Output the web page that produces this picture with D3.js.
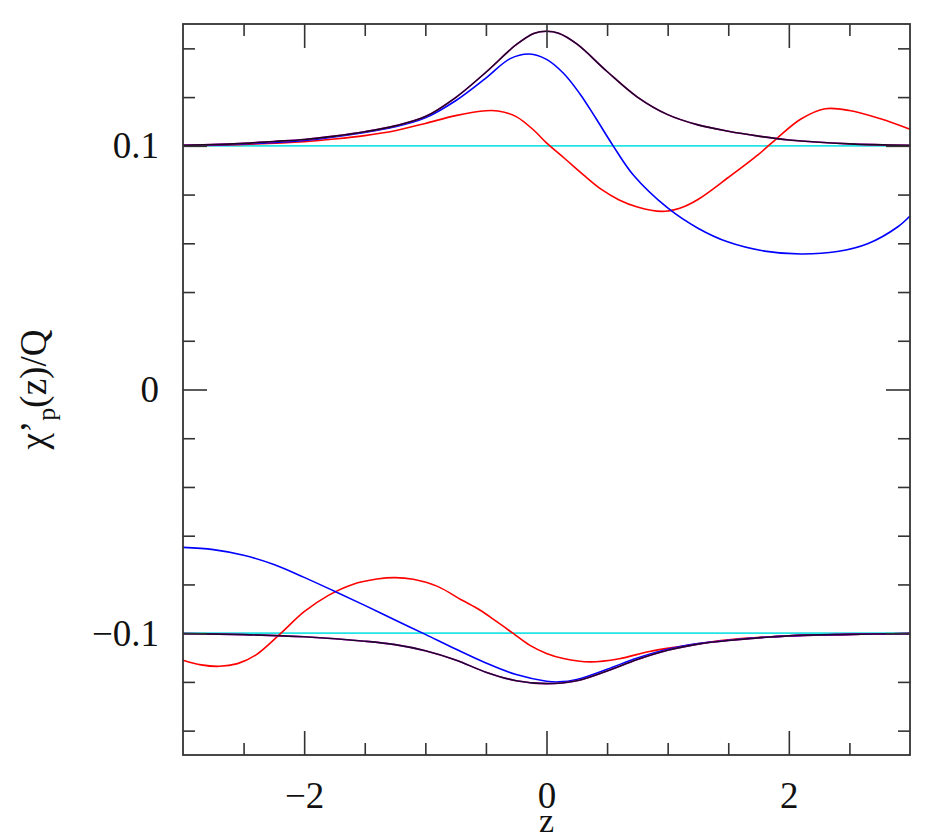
<!DOCTYPE html>
<html>
<head>
<meta charset="utf-8">
<script src="https://cdn.jsdelivr.net/npm/d3@7"></script>
<style>
  body { margin: 0; background: #fff; }
  text { font-family: "Liberation Serif", "DejaVu Serif", serif; }
</style>
</head>
<body>
<div id="chart"></div>
<script>
// upper branch (around +0.1)
const zBlackUp = [-3, -2.5, -2.25, -2, -1.75, -1.5, -1.25, -1, -0.75, -0.5, -0.25, -0.1, 0, 0.1, 0.25, 0.5, 0.75, 1, 1.25, 1.5, 1.75, 2, 2.5, 3]
const blackUp = [0.1002, 0.1010, 0.1018, 0.1026, 0.1040, 0.1058, 0.1082, 0.1120, 0.1198, 0.1302, 0.1415, 0.1462, 0.1470, 0.1462, 0.1418, 0.1305, 0.1200, 0.1128, 0.1086, 0.1060, 0.1040, 0.1024, 0.1008, 0.1002]

const zBlueUp = [-3, -2.5, -2, -1.5, -1.25, -1, -0.75, -0.5, -0.3, -0.14, 0, 0.14, 0.275, 0.41, 0.55, 0.72, 1, 1.25, 1.5, 1.8, 2.1, 2.4, 2.65, 2.9, 3]
const blueUp = [0.1001, 0.1008, 0.1022, 0.1055, 0.1078, 0.1115, 0.1185, 0.1278, 0.1358, 0.1377, 0.1355, 0.1298, 0.1214, 0.1111, 0.1000, 0.0878, 0.0745, 0.0662, 0.0605, 0.0568, 0.0556, 0.0566, 0.0598, 0.0668, 0.0712]

const zRedUp = [-3, -2.5, -2, -1.75, -1.5, -1.25, -1, -0.75, -0.5, -0.4, -0.25, -0.1, 0, 0.15, 0.3, 0.45, 0.6, 0.75, 0.95, 1.1, 1.25, 1.5, 1.75, 1.9, 2.1, 2.3, 2.5, 2.75, 3]
const redUp = [0.1001, 0.1006, 0.1017, 0.1028, 0.1042, 0.1062, 0.1092, 0.1124, 0.1144, 0.1143, 0.1120, 0.1062, 0.1012, 0.0948, 0.0883, 0.0822, 0.0778, 0.0749, 0.0731, 0.0744, 0.0780, 0.0870, 0.0965, 0.1030, 0.1110, 0.1152, 0.1145, 0.1112, 0.1068]

// lower branch (around -0.1)
const zBlackLow = [-3, -2.5, -2, -1.5, -1.25, -1, -0.75, -0.5, -0.25, 0, 0.25, 0.5, 0.75, 1, 1.25, 1.5, 2, 2.5, 3]
const blackLow = [-0.1002, -0.1006, -0.1015, -0.1033, -0.1047, -0.1072, -0.1110, -0.1160, -0.1195, -0.1207, -0.1195, -0.1155, -0.1108, -0.1070, -0.1045, -0.1030, -0.1011, -0.1005, -0.1002]

const zBlueLow = [-3, -2.75, -2.5, -2.25, -2, -1.75, -1.5, -1.25, -1, -0.75, -0.5, -0.25, 0, 0.1, 0.25, 0.5, 0.75, 1, 1.25, 1.5, 2, 2.5, 3]
const blueLow = [-0.0648, -0.0657, -0.0680, -0.0718, -0.0771, -0.0828, -0.0886, -0.0946, -0.1005, -0.1065, -0.1122, -0.1170, -0.1197, -0.1200, -0.1190, -0.1148, -0.1102, -0.1066, -0.1043, -0.1029, -0.1011, -0.1005, -0.1002]

const zRedLow = [-3, -2.85, -2.7, -2.55, -2.4, -2.2, -2, -1.8, -1.6, -1.4, -1.25, -1.1, -0.9, -0.7, -0.55, -0.41, -0.275, -0.14, 0, 0.14, 0.36, 0.6, 0.85, 1.1, 1.5, 2, 2.5, 3]
const redLow = [-0.1111, -0.1130, -0.1136, -0.1125, -0.1090, -0.1004, -0.0912, -0.0845, -0.0800, -0.0778, -0.0772, -0.0779, -0.0808, -0.0864, -0.0905, -0.0953, -0.1001, -0.1049, -0.1083, -0.1104, -0.1118, -0.1105, -0.1075, -0.1055, -0.1027, -0.1011, -0.1005, -0.1002]

// flat reference lines
const zFlat = [-3, 3]
const flatUp = [0.1, 0.1]
const flatLow = [-0.1, -0.1]

const xMajor = [-2, 0, 2]
const xMinor = [-2.5, -1.5, -1, -0.5, 0.5, 1, 1.5, 2.5]
const yMajor = [-0.1, 0, 0.1]
const yMinor = [-0.14, -0.12, -0.08, -0.06, -0.04, -0.02, 0.02, 0.04, 0.06, 0.08, 0.12, 0.14]

const width = 938
const height = 840
const margin = {top: 24, right: 28, bottom: 85, left: 183}
const iw = width - margin.left - margin.right
const ih = height - margin.top - margin.bottom

const svg = d3.select("#chart")
    .append("svg")
    .attr("width", width)
    .attr("height", height)

const x = d3.scaleLinear().domain([-3, 3]).range([0, iw])
const y = d3.scaleLinear().domain([-0.15, 0.15]).range([ih, 0])

const g = svg.append("g").attr("transform", `translate(${margin.left},${margin.top})`)

const zip = (zs, vs) => zs.map((z, i) => [z, vs[i]])
const line = d3.line().x(d => x(d[0])).y(d => y(d[1])).curve(d3.curveCatmullRom.alpha(0.5))

const series = [
    {z: zFlat, v: flatUp, color: "#22e4e4"},
    {z: zFlat, v: flatLow, color: "#22e4e4"},
    {z: zRedUp, v: redUp, color: "#ff0000"},
    {z: zRedLow, v: redLow, color: "#ff0000"},
    {z: zBlueUp, v: blueUp, color: "#0000ff"},
    {z: zBlueLow, v: blueLow, color: "#0000ff"},
    {z: zBlackUp, v: blackUp, color: "#ff00ff"},
    {z: zBlackLow, v: blackLow, color: "#ff00ff"},
    {z: zBlackUp, v: blackUp, color: "#1c0a1e"},
    {z: zBlackLow, v: blackLow, color: "#1c0a2a"}
]

g.append("g")
    .selectAll("path")
    .data(series)
    .join("path")
    .attr("fill", "none")
    .attr("stroke", d => d.color)
    .attr("stroke-width", 1.6)
    .attr("d", d => line(zip(d.z, d.v)))

// ticks on all four sides, pointing inward
const tickStyle = sel => {
    sel.select(".domain").remove()
    sel.selectAll(".tick line").attr("stroke", "#333").attr("stroke-width", 1.6)
    sel.selectAll(".tick text")
        .attr("fill", "#111")
        .style("font-family", "'Liberation Serif', serif")
        .style("font-size", "37px")
}

g.append("g").attr("transform", `translate(0,${ih})`)
    .call(d3.axisBottom(x).tickValues(xMinor).tickSize(-12).tickFormat(""))
    .call(tickStyle)
g.append("g").attr("transform", `translate(0,${ih})`)
    .call(d3.axisBottom(x).tickValues(xMajor).tickSize(-24).tickPadding(27)
        .tickFormat(d => d < 0 ? "\u2212" + Math.abs(d) : d))
    .call(tickStyle)
g.append("g")
    .call(d3.axisTop(x).tickValues(xMinor).tickSize(-12).tickFormat(""))
    .call(tickStyle)
g.append("g")
    .call(d3.axisTop(x).tickValues(xMajor).tickSize(-24).tickFormat(""))
    .call(tickStyle)

g.append("g")
    .call(d3.axisLeft(y).tickValues(yMinor).tickSize(-12).tickFormat(""))
    .call(tickStyle)
g.append("g")
    .call(d3.axisLeft(y).tickValues(yMajor).tickSize(-24).tickPadding(24)
        .tickFormat(d => d === 0 ? "0" : (d < 0 ? "\u2212" : "") + Math.abs(d)))
    .call(tickStyle)
g.append("g").attr("transform", `translate(${iw},0)`)
    .call(d3.axisRight(y).tickValues(yMinor).tickSize(-12).tickFormat(""))
    .call(tickStyle)
g.append("g").attr("transform", `translate(${iw},0)`)
    .call(d3.axisRight(y).tickValues(yMajor).tickSize(-24).tickFormat(""))
    .call(tickStyle)

// frame
g.append("rect")
    .attr("width", iw)
    .attr("height", ih)
    .attr("fill", "none")
    .attr("stroke", "#333")
    .attr("stroke-width", 1.8)

// axis titles
svg.append("text")
    .attr("x", margin.left + x(0))
    .attr("y", 832)
    .attr("text-anchor", "middle")
    .style("font-size", "34px")
    .attr("fill", "#111")
    .text("z")

const ylab = svg.append("text")
    .attr("transform", `translate(46,${margin.top + y(0)}) rotate(-90)`)
    .attr("text-anchor", "middle")
    .style("font-size", "37px")
    .attr("fill", "#111")
ylab.append("tspan").text("\u03c7\u2019")
ylab.append("tspan").attr("dy", 9).style("font-size", "26px").text("p")
ylab.append("tspan").attr("dy", -9).text("(z)/Q")
</script>
</body>
</html>
